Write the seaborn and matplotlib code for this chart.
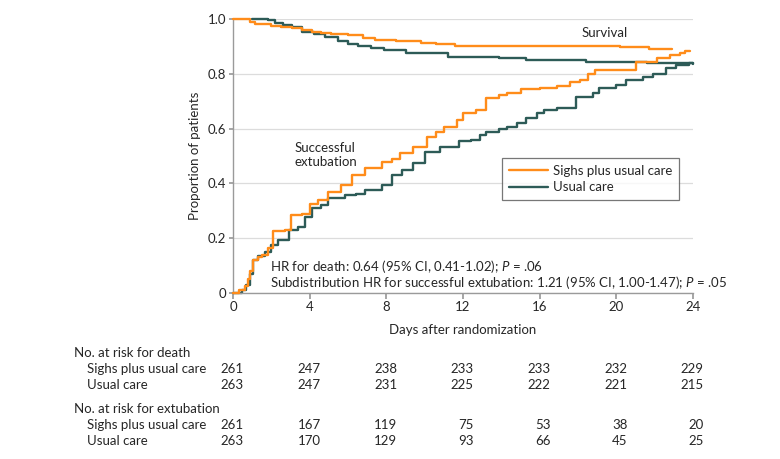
import numpy as np
import pandas as pd
import matplotlib
matplotlib.use('Agg')
import matplotlib.pyplot as plt
import matplotlib.transforms as mtransforms
import seaborn as sns

# Survival curves (days, proportion)
surv_sighs_days = [0, 0.9, 1.15, 2.0, 2.5, 3.06, 3.6, 4.1, 4.6, 5.1, 6.0, 6.8, 7.4, 8.5, 9.8, 10.6, 11.6, 20.2, 21.7, 22.9]
surv_sighs = [1.0, 0.99, 0.982, 0.974, 0.97, 0.966, 0.96, 0.954, 0.95, 0.946, 0.942, 0.932, 0.923, 0.92, 0.914, 0.91, 0.903, 0.897, 0.89, 0.89]
surv_uc_days = [1.0, 1.84, 2.2, 2.6, 3.06, 3.6, 4.2, 4.8, 5.5, 6.0, 6.5, 7.2, 7.9, 9.0, 11.2, 13.9, 15.3, 18.4, 21.6, 24.0]
surv_uc = [1.0, 0.995, 0.984, 0.978, 0.972, 0.954, 0.945, 0.936, 0.918, 0.908, 0.9, 0.893, 0.887, 0.875, 0.863, 0.857, 0.85, 0.844, 0.838, 0.835]

# Cumulative incidence of successful extubation
ext_sighs_days = [0, 0.3, 0.6, 0.8, 0.9, 1.05, 1.3, 1.5, 1.8, 2.1, 2.7, 3.05, 3.6, 4.0, 4.45, 4.95, 5.65, 6.2,
                  6.9, 7.75, 8.3, 8.7, 9.4, 10.1, 10.6, 11.0, 11.7, 12.0, 12.7, 13.2, 13.9, 14.3, 15.0, 16.0,
                  16.9, 17.6, 18.1, 18.5, 18.9, 21.05, 22.1, 22.8, 23.3, 23.6, 23.85]
ext_sighs = [0, 0.01, 0.025, 0.05, 0.08, 0.12, 0.13, 0.14, 0.165, 0.225, 0.23, 0.285, 0.29, 0.325, 0.34, 0.37, 0.395, 0.43,
             0.455, 0.479, 0.49, 0.51, 0.534, 0.57, 0.589, 0.607, 0.63, 0.656, 0.668, 0.71, 0.723, 0.73, 0.743, 0.747,
             0.755, 0.771, 0.777, 0.80, 0.814, 0.844, 0.857, 0.869, 0.875, 0.885, 0.885]
ext_uc_days = [0, 0.45, 0.7, 0.9, 1.05, 1.3, 1.67, 2.0, 2.35, 2.9, 3.4, 3.75, 4.1, 4.6, 4.97, 5.85, 6.4, 6.9, 7.75,
               8.3, 8.8, 9.4, 10.0, 10.8, 11.8, 12.4, 12.9, 13.2, 13.9, 14.3, 14.8, 15.3, 15.85, 16.2, 16.9, 17.9,
               18.8, 19.1, 20.0, 20.5, 21.4, 21.9, 22.6, 23.1, 23.8, 24.0]
ext_uc = [0, 0.01, 0.03, 0.07, 0.12, 0.135, 0.15, 0.175, 0.193, 0.23, 0.24, 0.279, 0.31, 0.32, 0.345, 0.358, 0.362,
          0.376, 0.394, 0.43, 0.45, 0.474, 0.516, 0.534, 0.553, 0.56, 0.577, 0.589, 0.60, 0.605, 0.619, 0.637, 0.656,
          0.668, 0.674, 0.716, 0.729, 0.747, 0.759, 0.777, 0.79, 0.80, 0.82, 0.832, 0.838, 0.838]

# Number at risk table
risk_days = [0, 4, 8, 12, 16, 20, 24]
death_sighs = [261, 247, 238, 233, 233, 232, 229]
death_uc = [263, 247, 231, 225, 222, 221, 215]
ext_risk_sighs = [261, 167, 119, 75, 53, 38, 20]
ext_risk_uc = [263, 170, 129, 93, 66, 45, 25]

groups = ['Sighs plus usual care', 'Usual care']
colors = {'Sighs plus usual care': '#FF8C1A', 'Usual care': '#2D5B57'}

sns.set_theme(style='white')
plt.rcParams['font.family'] = ['Lato', 'DejaVu Sans']
plt.rcParams['mathtext.fontset'] = 'custom'
plt.rcParams['mathtext.it'] = 'Lato:italic'
plt.rcParams['mathtext.rm'] = 'Lato'
fs = 9.5

fig = plt.figure(figsize=(7.8, 4.59), dpi=100)
ax = fig.add_axes([233 / 780, 1 - 293 / 459, 460 / 780, 274 / 459])

curves = [
    (surv_sighs_days, surv_sighs, groups[0]),
    (surv_uc_days, surv_uc, groups[1]),
    (ext_sighs_days, ext_sighs, groups[0]),
    (ext_uc_days, ext_uc, groups[1]),
]
for i, (d, v, g) in enumerate(curves):
    df = pd.DataFrame({'day': d, 'prop': v})
    sns.lineplot(data=df, x='day', y='prop', ax=ax, color=colors[g], lw=1.7,
                 drawstyle='steps-post', estimator=None, sort=False,
                 label=g if i < 2 else None, clip_on=False, zorder=3 if g == groups[0] else 2)

ax.set_xlim(0, 24)
ax.set_ylim(0, 1.0)
ax.set_xticks(risk_days)
ax.set_xticklabels([str(t) for t in risk_days], fontsize=fs)
ax.set_yticks([0, 0.2, 0.4, 0.6, 0.8, 1.0])
ax.set_yticklabels(['0', '0.2', '0.4', '0.6', '0.8', '1.0'], fontsize=fs)
ax.yaxis.grid(True, color='#dcdcdc', lw=0.9)
ax.xaxis.grid(False)
for s in ['top', 'right']:
    ax.spines[s].set_visible(False)
for s in ['left', 'bottom']:
    ax.spines[s].set_color('#9a9a9a')
    ax.spines[s].set_linewidth(1.0)
ax.tick_params(axis='x', bottom=True, length=4, color='#9a9a9a', pad=2)
ax.tick_params(axis='y', left=True, length=3, color='#9a9a9a', pad=2)
ax.set_xlabel('Days after randomization', fontsize=fs, labelpad=8)
ax.set_ylabel('Proportion of patients', fontsize=fs, labelpad=5)

leg = ax.legend(loc='upper right', bbox_to_anchor=(0.9696, 0.493), fontsize=fs, frameon=True,
                fancybox=False, handlelength=2.95, handletextpad=0.4, borderpad=0.5,
                labelspacing=0.35, borderaxespad=0)
leg.get_frame().set_edgecolor('#555555')
leg.get_frame().set_linewidth(0.9)

ax.text(19.4, 0.949, 'Survival', fontsize=fs, ha='center', va='center')
ax.text(3.23, 0.504, 'Successful\nextubation', fontsize=fs, ha='left', va='center', linespacing=1.2)
ax.text(1.93, 0.0985, 'HR for death: 0.64 (95% CI, 0.41-1.02); $P$ = .06', fontsize=fs, ha='left', va='center')
ax.text(1.93, 0.040, 'Subdistribution HR for successful extubation: 1.21 (95% CI, 1.00-1.47); $P$ = .05',
        fontsize=fs, ha='left', va='center')

# At-risk table below
trans = mtransforms.blended_transform_factory(ax.transData, fig.transFigure)
def fy(py):
    return 1 - py / 459

fig.text(74 / 780, fy(353), 'No. at risk for death', fontsize=fs, ha='left', va='center')
fig.text(87 / 780, fy(369), groups[0], fontsize=fs, ha='left', va='center')
fig.text(87 / 780, fy(385), groups[1], fontsize=fs, ha='left', va='center')
fig.text(74 / 780, fy(409), 'No. at risk for extubation', fontsize=fs, ha='left', va='center')
fig.text(87 / 780, fy(425), groups[0], fontsize=fs, ha='left', va='center')
fig.text(87 / 780, fy(441), groups[1], fontsize=fs, ha='left', va='center')
for row, py in [(death_sighs, 369), (death_uc, 385), (ext_risk_sighs, 425), (ext_risk_uc, 441)]:
    for d, n in zip(risk_days, row):
        ax.text(d + 0.57, fy(py), str(n), transform=trans, fontsize=fs, ha='right', va='center', clip_on=False)

fig.savefig('out.png', dpi=100, facecolor='white')
